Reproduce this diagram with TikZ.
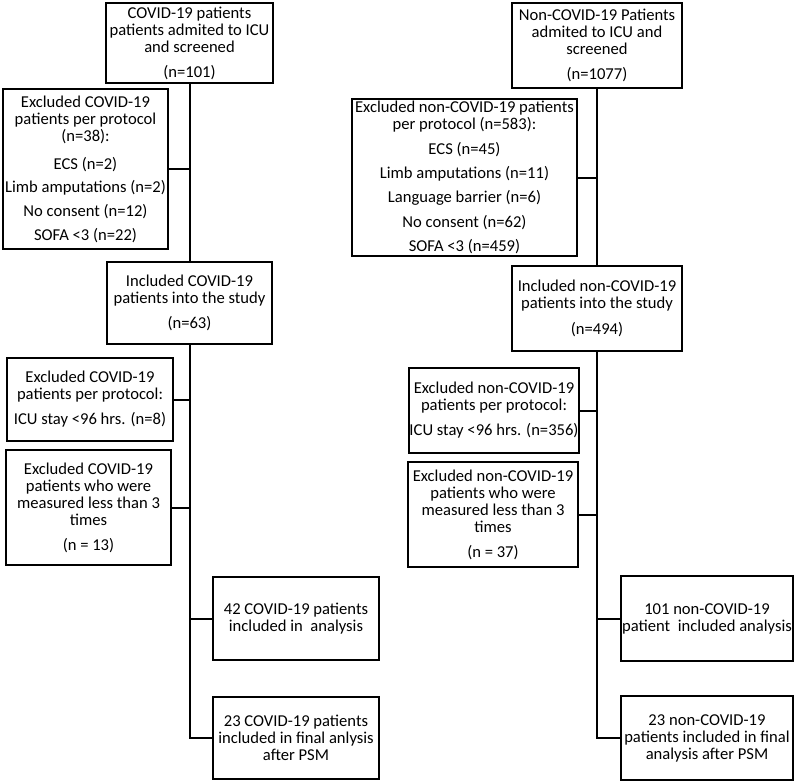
\documentclass[tikz,border=0pt]{standalone}
\usepackage{fontspec}
\setmainfont{Carlito}
\begin{document}
\begin{tikzpicture}[x=1pt,y=-1pt,
  box/.style={draw, line width=2pt, align=center, inner sep=0pt,
    font=\fontsize{16.6}{17}\selectfont},
  link/.style={line width=2pt}]
\useasboundingbox (0,0) rectangle (794,782);
% left column
\node[box, minimum width=167pt, minimum height=80pt] (L1) at (189.5,43) {COVID-19 patients\\patients admited to ICU\\and screened\\[8pt](n=101)};
\node[box, minimum width=165pt, minimum height=160pt] (L2) at (85.5,169) {Excluded COVID-19\\patients per protocol\\(n=38):\\[11pt]ECS (n=2)\\[6pt]Limb amputations (n=2)\\[7pt]No consent (n=12)\\[7pt]SOFA <3 (n=22)};
\node[box, minimum width=165pt, minimum height=82pt] (L3) at (189.5,303) {Included COVID-19\\patients into the study\\[8pt](n=63)};
\node[box, minimum width=166pt, minimum height=83pt] (L4) at (90,399.5) {Excluded COVID-19\\patients per protocol:\\[8pt]ICU stay <96 hrs. (n=8)};
\node[box, minimum width=165pt, minimum height=115pt] (L5) at (88.5,507.5) {Excluded COVID-19\\patients who were\\measured less than 3\\times\\[8pt](n = 13)};
\node[box, minimum width=166pt, minimum height=83pt] (L6) at (296,618.5) {42 COVID-19 patients\\included in\ \ analysis};
\node[box, minimum width=166pt, minimum height=82pt] (L7) at (296,738) {23 COVID-19 patients\\included in final anlysis\\after PSM};
% right column
\node[box, minimum width=170pt, minimum height=85pt] (R1) at (597,45.5) {Non-COVID-19 Patients\\admited to ICU and\\screened\\[8pt](n=1077)};
\node[box, minimum width=225pt, minimum height=157pt] (R2) at (464.5,177.5) {Excluded non-COVID-19 patients\\per protocol (n=583):\\[8pt]ECS (n=45)\\[7pt]Limb amputations (n=11)\\[7pt]Language barrier (n=6)\\[8pt]No consent (n=62)\\[7pt]SOFA <3 (n=459)};
\node[box, minimum width=170pt, minimum height=85pt] (R3) at (597,308.5) {Included non-COVID-19\\patients into the study\\[9pt](n=494)};
\node[box, minimum width=170pt, minimum height=85pt] (R4) at (494,410.5) {Excluded non-COVID-19\\patients per protocol:\\[8pt]ICU stay <96 hrs. (n=356)};
\node[box, minimum width=170pt, minimum height=105pt] (R5) at (493,514.5) {Excluded non-COVID-19\\patients who were\\measured less than 3\\times\\[8pt](n = 37)};
\node[box, minimum width=172pt, minimum height=85pt] (R6) at (707,618.5) {101 non-COVID-19\\patient\ \ included analysis};
\node[box, minimum width=172pt, minimum height=84pt] (R7) at (707,738) {23 non-COVID-19\\patients included in final\\analysis after PSM};
% left connectors
\draw[link] (L1.south) -- (L3.north);
\draw[link] (L2.east) -- (L2.east -| L1.south);
\draw[link] (L3.south) -- (L7.west -| L3.south) -- (L7.west);
\draw[link] (L4.east) -- (L4.east -| L3.south);
\draw[link] (L5.east) -- (L5.east -| L3.south);
\draw[link] (L6.west) -- (L6.west -| L3.south);
% right connectors
\draw[link] (R1.south) -- (R3.north);
\draw[link] (R2.east) -- (R2.east -| R1.south);
\draw[link] (R3.south) -- (R7.west -| R3.south) -- (R7.west);
\draw[link] (R4.east) -- (R4.east -| R3.south);
\draw[link] (R5.east) -- (R5.east -| R3.south);
\draw[link] (R6.west) -- (R6.west -| R3.south);
\end{tikzpicture}
\end{document}
